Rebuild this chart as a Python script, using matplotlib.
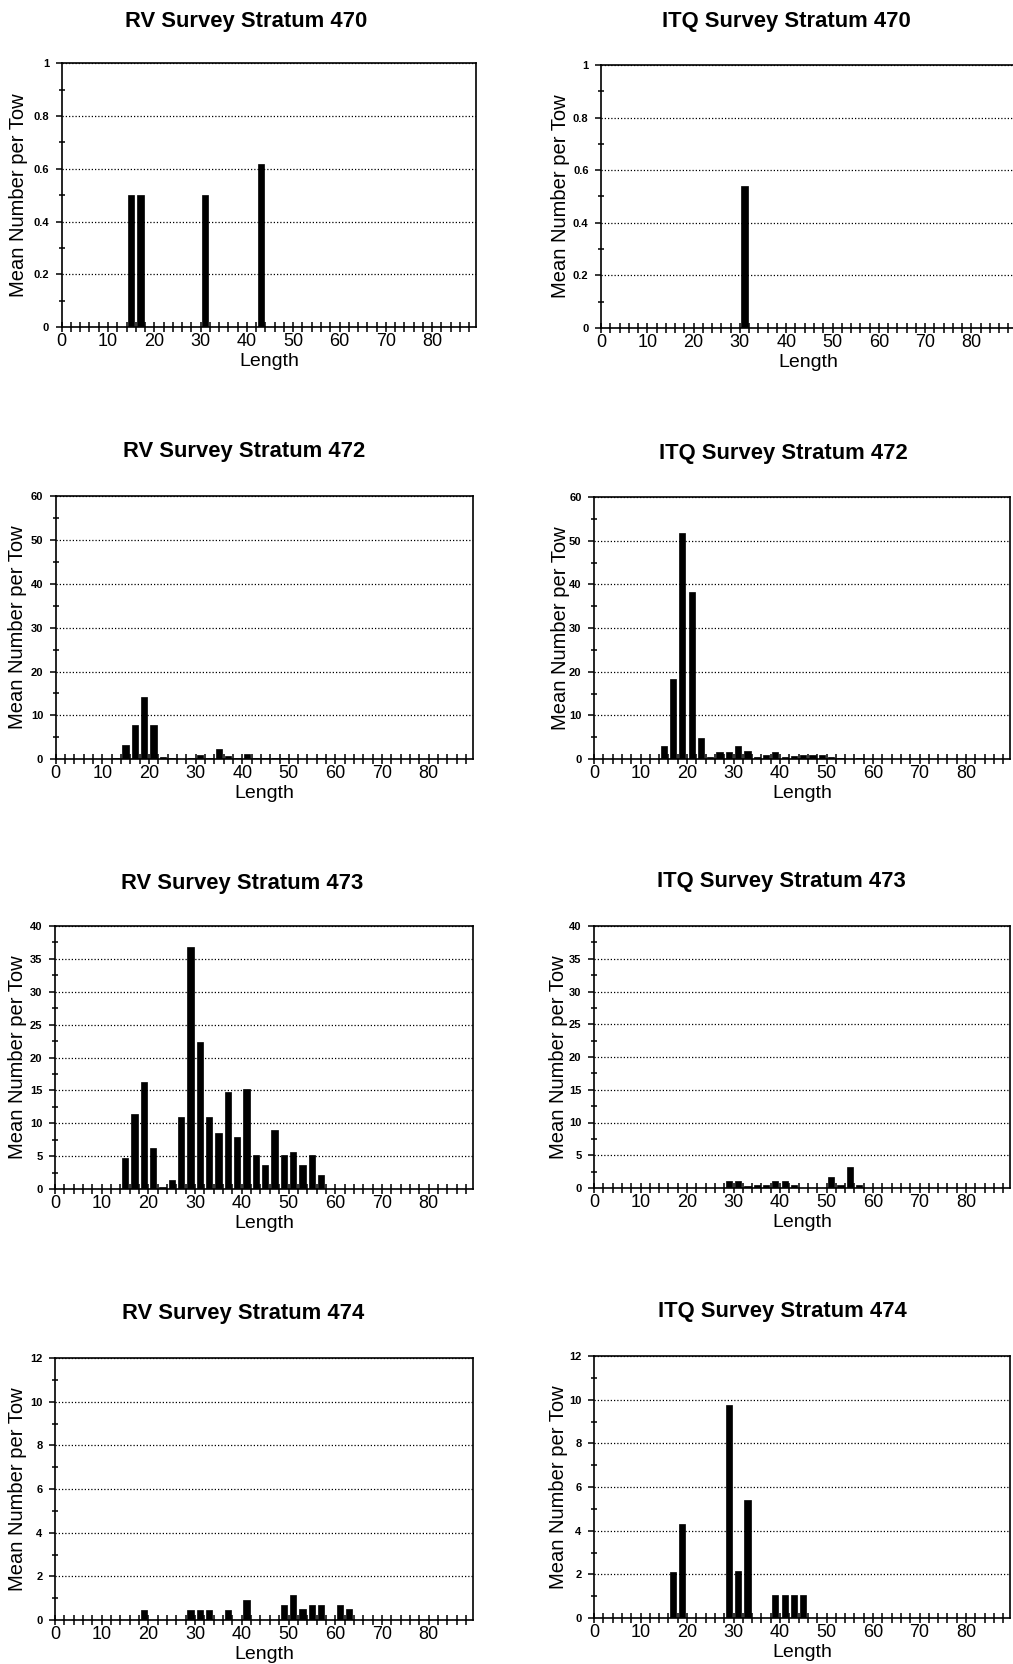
import matplotlib
matplotlib.use("Agg")
import matplotlib.pyplot as plt
from matplotlib.ticker import MultipleLocator, FixedLocator

plt.rcParams['font.family'] = ['Liberation Sans', 'DejaVu Sans']

# ---------------- data ----------------
rv470_len = [15, 17, 31, 43]
rv470_val = [0.5, 0.5, 0.5, 0.62]

itq470_len = [31]
itq470_val = [0.54]

rv472_len = [13, 15, 17, 19, 21, 23, 25, 29, 31, 33, 35, 37, 39, 41, 43, 45, 47, 49, 57]
rv472_val = [0.4, 3.3, 7.8, 14.1, 7.8, 0.6, 0.2, 0.3, 1.0, 0.3, 2.4, 0.7, 0.2, 1.3, 0.3, 0.2, 0.2, 0.2, 0.2]

itq472_len = [15, 17, 19, 21, 23, 25, 27, 29, 31, 33, 35, 37, 39, 41, 43, 45, 47, 49, 51, 53, 57]
itq472_val = [2.9, 18.3, 51.8, 38.3, 4.7, 0.5, 1.5, 1.5, 2.9, 1.8, 0.5, 1.0, 1.7, 0.5, 0.7, 1.0, 1.0, 1.0, 0.4, 0.3, 0.3]

rv473_len = [15, 17, 19, 21, 23, 25, 27, 29, 31, 33, 35, 37, 39, 41, 43, 45, 47, 49, 51, 53, 55, 57]
rv473_val = [4.7, 11.4, 16.3, 6.2, 0.35, 1.4, 11.0, 36.8, 22.3, 11.0, 8.5, 14.8, 7.9, 15.2, 5.1, 3.6, 9.0, 5.2, 5.7, 3.6, 5.1, 2.1]

itq473_len = [29, 31, 33, 35, 37, 39, 41, 43, 51, 53, 55, 57]
itq473_val = [1.0, 1.0, 0.3, 0.5, 0.5, 1.0, 1.0, 0.5, 1.7, 0.5, 3.25, 0.5]

rv474_len = [19, 29, 31, 33, 37, 41, 49, 51, 53, 55, 57, 61, 63]
rv474_val = [0.46, 0.46, 0.46, 0.46, 0.46, 0.93, 0.69, 1.16, 0.49, 0.69, 0.69, 0.69, 0.49]

itq474_len = [17, 19, 29, 31, 33, 39, 41, 43, 45]
itq474_val = [2.12, 4.32, 9.75, 2.15, 5.39, 1.07, 1.07, 1.07, 1.07]

x_ticks = [0, 10, 20, 30, 40, 50, 60, 70, 80]
x_label = "Length"
y_label = "Mean Number per Tow"

W, H = 1013, 1664
fig = plt.figure(figsize=(W / 100, H / 100), dpi=100)
fig.patch.set_facecolor('white')

XMAX = 89.5


def make_panel(left, top, bottom, right, title, tx, ty, ylx, lens, vals,
               ymax, ystep, yminor, ylabels):
    ax = fig.add_axes([left / W, 1 - bottom / H, (right - left) / W, (bottom - top) / H])
    ax.bar(lens, vals, width=1.35, color='black', edgecolor='black', linewidth=0.5, zorder=3)
    ax.set_xlim(0, XMAX)
    ax.set_ylim(0, ymax)
    ax.xaxis.set_major_locator(FixedLocator(x_ticks))
    ax.xaxis.set_minor_locator(MultipleLocator(2))
    ax.set_xticklabels([str(t) for t in x_ticks], fontsize=13)
    ax.tick_params(axis='x', which='both', direction='inout', length=6.5, width=1.1, pad=1)
    yt = [ystep * i for i in range(len(ylabels))]
    ax.yaxis.set_major_locator(FixedLocator(yt))
    ax.yaxis.set_minor_locator(MultipleLocator(yminor))
    ax.set_yticklabels(ylabels, fontsize=8, fontweight='bold')
    ax.tick_params(axis='y', which='major', direction='out', length=4, width=1.1, pad=5)
    ax.tick_params(axis='y', which='minor', direction='inout', length=4, width=1.1)
    ax.yaxis.grid(True, which='major', linestyle=(0, (1, 1.6)), color='black', linewidth=0.9)
    ax.set_axisbelow(True)
    for s in ax.spines.values():
        s.set_linewidth(1.2)
        s.set_color('black')
    ax.set_xlabel(x_label, fontsize=14, labelpad=2)
    fig.text(tx / W, 1 - ty / H, title, fontsize=15.8, fontweight='bold', ha='center', va='center')
    fig.text(ylx / W, 1 - (top + bottom) / 2 / H, y_label, fontsize=14.5, rotation=90,
             ha='center', va='center')
    return ax


lab1 = ['0', '0.2', '0.4', '0.6', '0.8', '1']
lab60 = ['0', '10', '20', '30', '40', '50', '60']
lab40 = ['0', '5', '10', '15', '20', '25', '30', '35', '40']
lab12 = ['0', '2', '4', '6', '8', '10', '12']

# left column (RV)
make_panel(61.7, 63.3, 327.3, 61.7 + XMAX * 4.63, "RV Survey Stratum 470", 246, 21, 19,
           rv470_len, rv470_val, 1, 0.2, 0.1, lab1)
make_panel(55.7, 496, 759.3, 473, "RV Survey Stratum 472", 244, 452, 18,
           rv472_len, rv472_val, 60, 10, 5, lab60)
make_panel(55, 926, 1189, 473, "RV Survey Stratum 473", 242, 883, 18,
           rv473_len, rv473_val, 40, 5, 2.5, lab40)
make_panel(55, 1358, 1620, 473, "RV Survey Stratum 474", 243, 1313, 18,
           rv474_len, rv474_val, 12, 2, 1, lab12)

# right column (ITQ)
make_panel(601, 65, 328, 601 + XMAX * 4.63, "ITQ Survey Stratum 470", 786, 22, 561,
           itq470_len, itq470_val, 1, 0.2, 0.1, lab1)
make_panel(594, 497, 759, 594 + XMAX * 4.65, "ITQ Survey Stratum 472", 783, 453, 560,
           itq472_len, itq472_val, 60, 10, 5, lab60)
make_panel(594, 926, 1188, 594 + XMAX * 4.65, "ITQ Survey Stratum 473", 781, 881, 559,
           itq473_len, itq473_val, 40, 5, 2.5, lab40)
make_panel(594, 1356, 1618, 594 + XMAX * 4.65, "ITQ Survey Stratum 474", 782, 1311, 559,
           itq474_len, itq474_val, 12, 2, 1, lab12)

fig.savefig("out.png", dpi=100, facecolor='white')
